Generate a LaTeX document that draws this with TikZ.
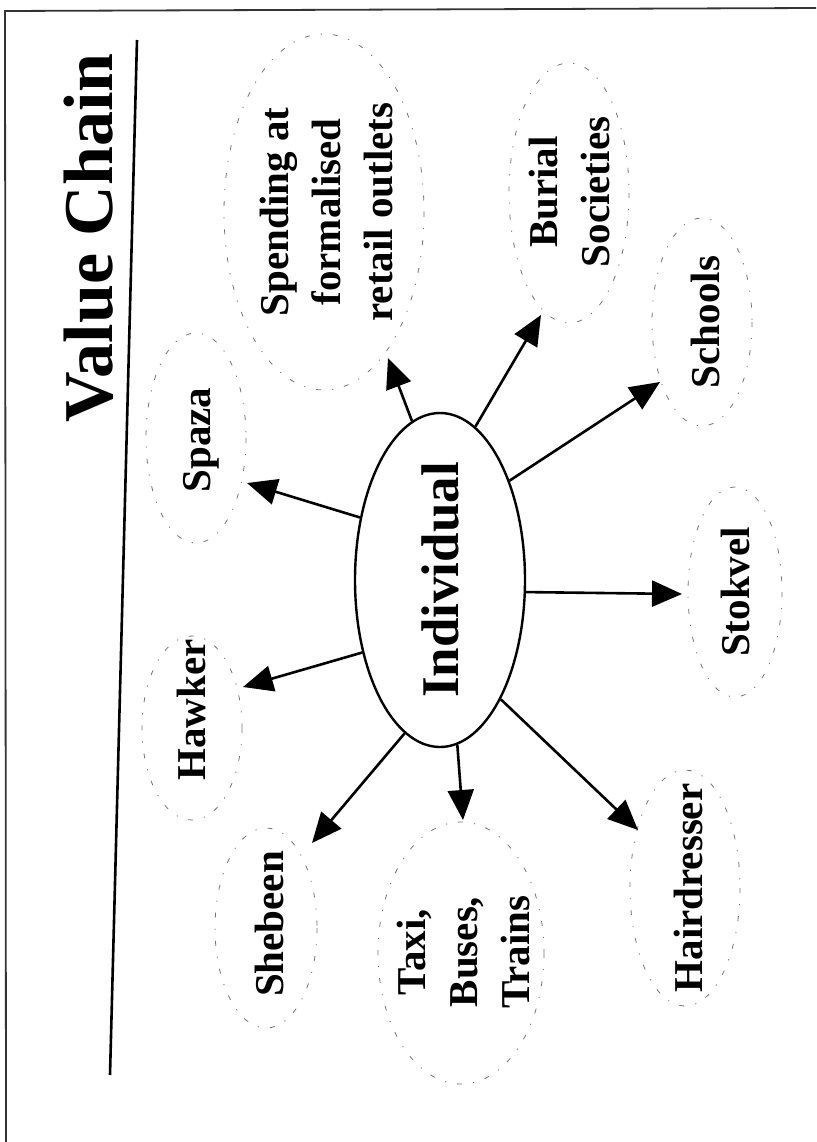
\documentclass[tikz,border=0pt]{standalone}
\usepackage{fontspec}
\setmainfont{Liberation Serif}
\usetikzlibrary{arrows.meta,shapes.geometric}
\begin{document}
\begin{tikzpicture}[x=1pt,y=-1pt,
  lbl/.style={rotate=90,inner sep=0pt,font=\bfseries\fontsize{41}{52}\selectfont,align=center},
  dotel/.style={black!55,line width=0.8pt,dash pattern=on 5pt off 11pt on 1.2pt off 11pt},
  arr/.style={line width=2.6pt,-{Triangle[length=30pt,width=26pt]}},
  frame/.style={black!80,line width=1.8pt}]
\useasboundingbox (0,0) rectangle (816,1142);
% page frame
\coordinate (fTL) at (5,11);
\coordinate (fTR) at (816,8);
\coordinate (fBL) at (6,1142);
\draw[frame] (fBL) -- (fTL) -- (fTR);
% title and rule
\node[rotate=90,inner sep=0pt,anchor=base,font=\bfseries\fontsize{70}{80}\selectfont] (title) at (112,238) {Value Chain};
\coordinate (rTop) at (137,40);
\coordinate (rBot) at (110,1075);
\draw[line width=2.6pt] (rTop) -- (rBot);
% dotted outlines
\draw[dotel] (324,212) ellipse [x radius=100,y radius=178];
\draw[dotel] (569,193) ellipse [x radius=60,y radius=130];
\draw[dotel] (702,322) ellipse [x radius=50,y radius=104];
\draw[dotel] (196,438) ellipse [x radius=50,y radius=105];
\draw[dotel] (192,728) ellipse [x radius=50,y radius=92];
\draw[dotel] (735,592) ellipse [x radius=47,y radius=105];
\draw[dotel] (266,928) ellipse [x radius=51,y radius=100];
\draw[dotel] (461,953) ellipse [x radius=83,y radius=131];
\draw[dotel] (685,888) ellipse [x radius=55,y radius=118];
% centre
\node[draw,ellipse,line width=2.4pt,minimum width=170pt,minimum height=334pt,inner sep=0pt] (ind) at (440,580) {};
\node[rotate=90,inner sep=0pt,anchor=base,font=\bfseries\fontsize{53}{60}\selectfont] (indt) at (458,580) {Individual};
% labels
\node[lbl] (spend) at (327,212) {Spending at\\formalised\\retail outlets};
\node[lbl] (burial) at (569,192) {Burial\\Societies};
\node[lbl,anchor=base] (schools) at (719,322) {Schools};
\node[lbl,anchor=base] (spaza) at (210,440) {Spaza};
\node[lbl,anchor=base] (hawker) at (205,710) {Hawker};
\node[lbl,anchor=base] (stokvel) at (749,592) {Stokvel};
\node[lbl,anchor=base] (shebeen) at (283,924) {Shebeen};
\node[lbl] (taxi) at (463,952) {Taxi,\\Buses,\\Trains};
\node[lbl,anchor=base] (hair) at (702,888) {Hairdresser};
% arrow tips
\coordinate (tSpend) at (388,358);
\coordinate (tBurial) at (541,315);
\coordinate (tSchools) at (660,382);
\coordinate (tSpaza) at (247,483);
\coordinate (tHawker) at (243,687);
\coordinate (tStok) at (682,594);
\coordinate (tShebeen) at (312,843);
\coordinate (tTaxi) at (463,820);
\coordinate (tHair) at (638,830);
% arrows
\draw[arr] (ind.100) -- (tSpend);
\draw[arr] (ind.77.5) -- (tBurial);
\draw[arr] (ind.55.6) -- (tSchools);
\draw[arr] (ind.142.5) -- (tSpaza);
\draw[arr] (ind.223) -- (tHawker);
\draw[arr] (ind.-8.7) -- (tStok);
\draw[arr] (ind.-103) -- (tShebeen);
\draw[arr] (ind.-84) -- (tTaxi);
\draw[arr] (ind.-63.4) -- (tHair);
\end{tikzpicture}
\end{document}
